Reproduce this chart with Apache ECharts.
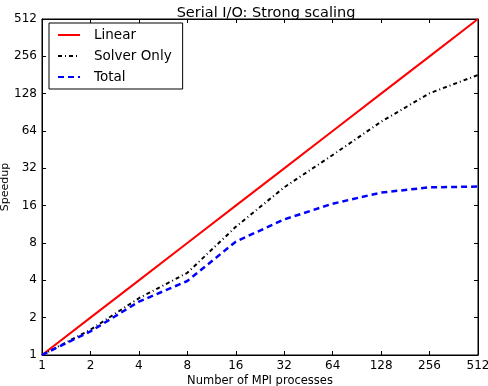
<!DOCTYPE html>
<html>
<head>
<meta charset="utf-8">
<script src="https://cdn.jsdelivr.net/npm/echarts@6/dist/echarts.min.js"></script>
<style>
  html, body { margin: 0; padding: 0; background: #fff; }
  #chart { width: 488px; height: 386px; }
</style>
</head>
<body>
<div id="chart"></div>
<script>
// processes (powers of two) and measured speedups
var procs = [1, 2, 4, 8, 16, 32, 64, 128, 256, 512];
var linear = [1, 2, 4, 8, 16, 32, 64, 128, 256, 512];
var solverOnly = [1, 1.6, 2.87, 4.6, 10.8, 22.5, 41, 76, 129, 181];
var total = [1, 1.55, 2.69, 3.95, 8.2, 12.4, 16.6, 20.4, 22.5, 22.8];

function pairs(ys) {
  return procs.map(function (p, i) { return [p, ys[i]]; });
}

var font = 'DejaVu Sans';
var myChart = echarts.init(document.getElementById('chart'));

function logAxis(extra) {
  var ax = {
    type: 'log',
    logBase: 2,
    min: 1,
    max: 512,
    splitNumber: 9,
    nameMoveOverlap: false,
    axisLine: { show: true, lineStyle: { color: '#000', width: 1 } },
    axisTick: { show: true, inside: true, length: 4, lineStyle: { color: '#000' } },
    splitLine: { show: false },
    axisLabel: {
      color: '#000',
      fontFamily: font,
      fontSize: 12,
      formatter: function (v) { return Math.round(v); }
    }
  };
  return Object.assign(ax, extra);
}

var options = {
  animation: false,
  title: {
    text: 'Serial I/O: Strong scaling',
    left: 261,
    textAlign: 'center',
    top: 1,
    textStyle: { fontFamily: font, fontSize: 14.5, fontWeight: 'normal', color: '#000' }
  },
  grid: {
    left: 42, right: 10, top: 19, bottom: 31,
    outerBoundsMode: 'none',
    containLabel: false,
    show: true, borderColor: '#000', borderWidth: 1
  },
  legend: {
    orient: 'vertical',
    left: 49,
    top: 23,
    padding: [5, 11, 5, 8],
    itemWidth: 22,
    itemHeight: 12,
    itemGap: 7,
    backgroundColor: '#fff',
    borderColor: '#000',
    borderWidth: 1,
    borderRadius: 0,
    itemStyle: { opacity: 0 },
    textStyle: { fontFamily: font, fontSize: 13.5, color: '#000', padding: [0, 0, 0, 9] },
    data: ['Linear', 'Solver Only', 'Total']
  },
  xAxis: [
    logAxis({
      name: 'Number of MPI processes',
      nameLocation: 'middle',
      nameGap: 20,
      nameTextStyle: { fontFamily: font, fontSize: 11.5, color: '#000' },
      axisLabel: {
        color: '#000', fontFamily: font, fontSize: 12, margin: 5,
        formatter: function (v) { return Math.round(v); }
      }
    }),
    logAxis({ position: 'top', axisLabel: { show: false } })
  ],
  yAxis: [
    logAxis({
      name: 'Speedup',
      nameLocation: 'middle',
      nameGap: 31,
      nameTextStyle: { fontFamily: font, fontSize: 11, color: '#000' },
      axisLabel: {
        color: '#000', fontFamily: font, fontSize: 12, margin: 5,
        formatter: function (v) { return Math.round(v); }
      }
    }),
    logAxis({ position: 'right', axisLabel: { show: false } })
  ],
  series: [
    {
      name: 'Linear',
      type: 'line',
      symbol: 'none',
      data: pairs(linear),
      itemStyle: { color: '#ff0000' },
      lineStyle: { color: '#ff0000', width: 2 }
    },
    {
      name: 'Solver Only',
      type: 'line',
      symbol: 'none',
      data: pairs(solverOnly),
      itemStyle: { color: '#000' },
      lineStyle: { color: '#000', width: 2, type: [4, 3, 1, 3] }
    },
    {
      name: 'Total',
      type: 'line',
      symbol: 'none',
      data: pairs(total),
      itemStyle: { color: '#0000ff' },
      lineStyle: { color: '#0000ff', width: 2.5, type: [6, 4] }
    }
  ]
};

myChart.setOption(options);
</script>
</body>
</html>
